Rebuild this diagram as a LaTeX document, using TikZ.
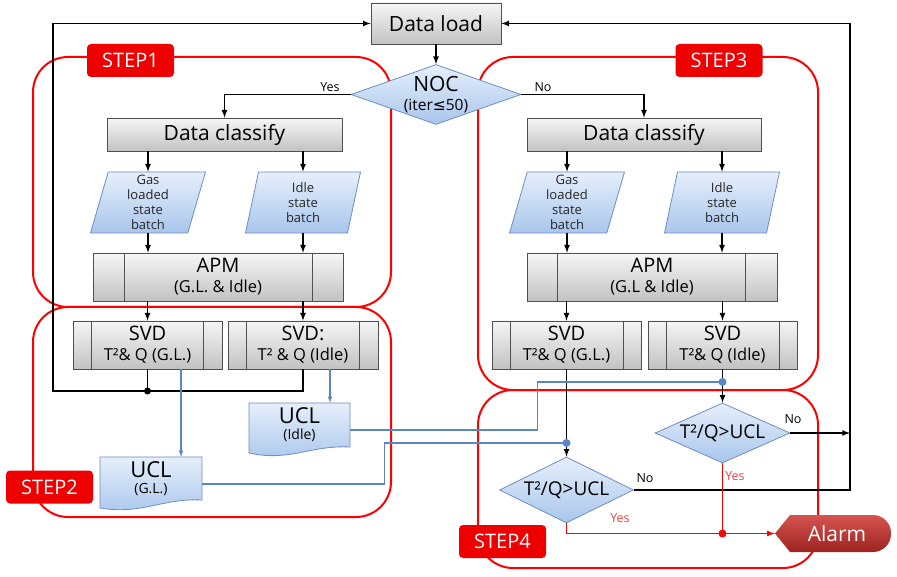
\documentclass[tikz,border=0pt]{standalone}
\usepackage{fontspec}
\setmainfont{Open Sans}
\newfontfamily\symfont{DejaVu Sans}
\usetikzlibrary{shapes,calc}
\usepackage{xcolor}

\definecolor{boxTop}{HTML}{F6F6F6}
\definecolor{boxBottom}{HTML}{C2C2C2}
\definecolor{boxLine}{HTML}{505050}
\definecolor{shapeTop}{HTML}{E6EFFB}
\definecolor{shapeBottom}{HTML}{A9C6EC}
\definecolor{shapeLine}{HTML}{6D8EBF}
\definecolor{wireBlue}{HTML}{5A86C3}
\definecolor{stepRed}{HTML}{EE0000}
\definecolor{alarmTop}{HTML}{D65450}
\definecolor{alarmBottom}{HTML}{9C2320}
\definecolor{yesRed}{HTML}{E8413C}

\begin{document}
\begin{tikzpicture}[%
    x=1pt, y=1pt,
    grayBox/.style={
      rectangle,
      draw=boxLine,
      thick,
      top color=boxTop,
      bottom color=boxBottom,
      inner sep=0pt,
      font=\fontsize{21}{22}\selectfont
    },
    procBox/.style={
      grayBox,
      minimum height=48pt,
      align=center,
      font=\fontsize{16.5}{20}\selectfont
    },
    inputBox/.style={
      trapezium,
      trapezium left angle=72,
      trapezium right angle=108,
      trapezium stretches body,
      draw=shapeLine,
      thick,
      top color=shapeTop,
      bottom color=shapeBottom,
      minimum width=115pt,
      minimum height=61pt,
      inner sep=0pt,
      align=center,
      text=black!85,
      font=\fontsize{13}{15}\selectfont
    },
    decision/.style={
      diamond,
      draw=shapeLine,
      thick,
      top color=shapeTop,
      bottom color=shapeBottom,
      inner sep=0pt,
      align=center,
      font=\fontsize{19}{20}\selectfont
    },
    docBox/.style={
      rectangle,
      minimum width=101pt,
      minimum height=44pt,
      inner sep=0pt,
      align=center,
      font=\fontsize{14}{16}\selectfont
    },
    docShape/.style={
      draw=shapeLine,
      thick,
      top color=shapeTop,
      bottom color=shapeBottom
    },
    stepLabel/.style={
      rectangle,
      rounded corners=4pt,
      fill=stepRed,
      text=white,
      minimum width=87pt,
      minimum height=33pt,
      font=\fontsize{20}{22}\selectfont
    },
    frame/.style={
      draw=red,
      line width=2pt,
      rounded corners=35pt
    },
    flowArrow/.style={draw, line width=1.6pt, -latex},
    flowLine/.style={draw, line width=1.6pt},
    redArrow/.style={draw=red, line width=1.6pt, -latex},
    blueArrow/.style={draw=wireBlue, line width=1.1pt, -latex},
    blueWire/.style={draw=wireBlue, line width=1.1pt},
    note/.style={font=\fontsize{12.5}{14}\selectfont}
  ]
    \useasboundingbox (0,0) rectangle (897,-577);

    % Step frames
    \draw[frame] (33,-57) rectangle (391,-307);
    \draw[frame] (33,-307) rectangle (391,-517);
    \draw[frame] (478,-57) rectangle (818,-390);
    \draw[frame] (478,-390) rectangle (818,-568);

    % UCL documents and alarm
    \draw[docShape] (249,-403) -- (350,-403) -- (350,-447)
        .. controls (310,-445) and (290,-462) .. (249,-453) -- cycle;
    \draw[docShape] (100,-457) -- (202,-457) -- (202,-500)
        .. controls (162,-498) and (142,-515) .. (100,-508) -- cycle;
    \shade[top color=alarmTop, bottom color=alarmBottom]
        (775,-533.5) -- (790,-515) [rounded corners=18pt] -- (891,-515)
        -- (891,-552) [sharp corners] -- (790,-552) -- cycle;

    \draw (436,-23.5) node[grayBox, minimum width=130pt, minimum height=41pt] (A) {Data load}
          (436,-94.5) node[decision, aspect=2.8, minimum width=170pt, minimum height=60pt,
                           font=\fontsize{15.5}{19}\selectfont] (B)
              {{\fontsize{21}{20}\selectfont NOC}\\(iter{\symfont ≤}50)}
          (224.5,-134.5) node[grayBox, minimum width=235pt, minimum height=33pt] (C) {Data classify}
          (644,-134.5) node[grayBox, minimum width=234pt, minimum height=33pt] (D) {Data classify}
          (148,-202.5) node[inputBox] (E) {Gas\\loaded\\state\\batch}
          (303,-202.5) node[inputBox] (F) {Idle\\state\\batch}
          (567,-202.5) node[inputBox] (G) {Gas\\loaded\\state\\batch}
          (722,-202.5) node[inputBox] (H) {Idle\\state\\batch}
          (218,-277) node[procBox, minimum width=250pt] (I)
              {{\fontsize{20}{20}\selectfont APM}\\(G.L. \& Idle)}
          (652,-277) node[procBox, minimum width=250pt] (J)
              {{\fontsize{20}{20}\selectfont APM}\\(G.L \& Idle)}
          (147.5,-345) node[procBox, minimum width=149pt] (K)
              {{\fontsize{20}{20}\selectfont SVD}\\T²\& Q (G.L.)}
          (303,-345) node[procBox, minimum width=150pt] (L)
              {{\fontsize{20}{20}\selectfont SVD:}\\T² \& Q (Idle)}
          (566.5,-345) node[procBox, minimum width=149pt] (M)
              {{\fontsize{20}{20}\selectfont SVD}\\T²\& Q (G.L.)}
          (722.5,-345) node[procBox, minimum width=149pt] (N)
              {{\fontsize{20}{20}\selectfont SVD}\\T²\& Q (Idle)}
          (299.5,-425) node[docBox] (O) {{\fontsize{22}{22}\selectfont UCL}\\(Idle)}
          (151,-479) node[docBox, minimum width=102pt] (P) {{\fontsize{22}{22}\selectfont UCL}\\(G.L.)}
          (722.5,-433) node[decision, aspect=2.1, minimum width=135pt, minimum height=60pt] (Q) {T²/Q>UCL}
          (566.5,-490) node[decision, aspect=2.0, minimum width=134pt, minimum height=66pt] (R) {T²/Q>UCL}
          (833,-533.5) node[minimum width=116pt, minimum height=37pt, inner sep=0pt, text=white,
                            font=\fontsize{21}{22}\selectfont] (S) {\hspace{8pt}Alarm};

    % inner bars of the process boxes
    \draw[boxLine] ($(I.north west)+(32,0)$) -- ($(I.south west)+(32,0)$);
    \draw[boxLine] ($(I.north east)+(-31,0)$) -- ($(I.south east)+(-31,0)$);
    \draw[boxLine] ($(J.north west)+(31,0)$) -- ($(J.south west)+(31,0)$);
    \draw[boxLine] ($(J.north east)+(-32,0)$) -- ($(J.south east)+(-32,0)$);
    \draw[boxLine] ($(K.north west)+(19,0)$) -- ($(K.south west)+(19,0)$);
    \draw[boxLine] ($(K.north east)+(-19,0)$) -- ($(K.south east)+(-19,0)$);
    \draw[boxLine] ($(L.north west)+(19,0)$) -- ($(L.south west)+(19,0)$);
    \draw[boxLine] ($(L.north east)+(-19,0)$) -- ($(L.south east)+(-19,0)$);
    \draw[boxLine] ($(M.north west)+(19,0)$) -- ($(M.south west)+(19,0)$);
    \draw[boxLine] ($(M.north east)+(-18,0)$) -- ($(M.south east)+(-18,0)$);
    \draw[boxLine] ($(N.north west)+(19,0)$) -- ($(N.south west)+(19,0)$);
    \draw[boxLine] ($(N.north east)+(-18,0)$) -- ($(N.south east)+(-18,0)$);

    \coordinate (loopL) at (53,-391);
    \coordinate (loopR) at (850,-490);
    \coordinate (dIdle) at (722.5,-382);
    \coordinate (dGL) at (566.5,-443);

    % main flow
    \draw[flowArrow] (A) -- (B);
    \draw[flowArrow] (B.west) -| (C.north);
    \draw[flowArrow] (B.east) -| (D.north);
    \draw[flowArrow] (C.south -| E.north) -- (E.north);
    \draw[flowArrow] (C.south -| F.north) -- (F.north);
    \draw[flowArrow] (D.south -| G.north) -- (G.north);
    \draw[flowArrow] (D.south -| H.north) -- (H.north);
    \draw[flowArrow] (E.south) -- (E.south |- I.north);
    \draw[flowArrow] (F.south) -- (F.south |- I.north);
    \draw[flowArrow] (G.south) -- (G.south |- J.north);
    \draw[flowArrow] (H.south) -- (H.south |- J.north);
    \draw[flowArrow] (I.south -| K.north) -- (K.north);
    \draw[flowArrow] (I.south -| L.north) -- (L.north);
    \draw[flowArrow] (J.south -| M.north) -- (M.north);
    \draw[flowArrow] (J.south -| N.north) -- (N.north);

    % back to data load
    \draw[flowArrow] (L.south) -- (L.south |- loopL) -- (loopL) |- (A.west);
    \draw[flowLine] (K.south) -- (K.south |- loopL);
    \fill (K.south |- loopL) circle (3.5);
    \draw[flowArrow] (M.south) -- (R.north);
    \draw[flowArrow] (N.south) -- (Q.north);
    \draw[flowArrow] (R.east) -- (R.east -| loopR) |- (A.east);
    \draw[flowArrow] (Q.east) -- (Q.east -| loopR);

    % limits
    \draw[blueArrow] ([xshift=33.5pt]K.south) -- ([xshift=33.5pt]K.south |- P.north);
    \draw[blueArrow] ([xshift=27pt]L.south) -- ([xshift=27pt]L.south |- O.north);
    \draw[blueWire] ([yshift=-5pt]O.east) -- ++(187,0) |- (dIdle);
    \draw[blueWire] ([yshift=-5pt]P.east) -- ++(182,0) |- (dGL);
    \fill[wireBlue] (dIdle) circle (4);
    \fill[wireBlue] (dGL) circle (4);

    % alarm
    \draw[redArrow] (R.south) |- (S.west);
    \draw[draw=red, line width=1.6pt] (Q.south) -- (Q.south |- S.west);
    \fill[red] (Q.south |- S.west) circle (4);

    % branch notes
    \node[note] (yesA) at (330,-87) {Yes};
    \node[note] (noA) at (543,-87) {No};
    \node[note] (noB) at (793,-419) {No};
    \node[note] (noC) at (645,-478) {No};
    \node[note, text=yesRed] (yesB) at (735,-476) {Yes};
    \node[note, text=yesRed] (yesC) at (620,-518) {Yes};

    % step labels
    \node[stepLabel] (T1) at (130.5,-60.5) {STEP1};
    \node[stepLabel] (T2) at (49.5,-487) {STEP2};
    \node[stepLabel] (T3) at (719,-60.5) {STEP3};
    \node[stepLabel] (T4) at (502.5,-541.5) {STEP4};
\end{tikzpicture}
\end{document}
